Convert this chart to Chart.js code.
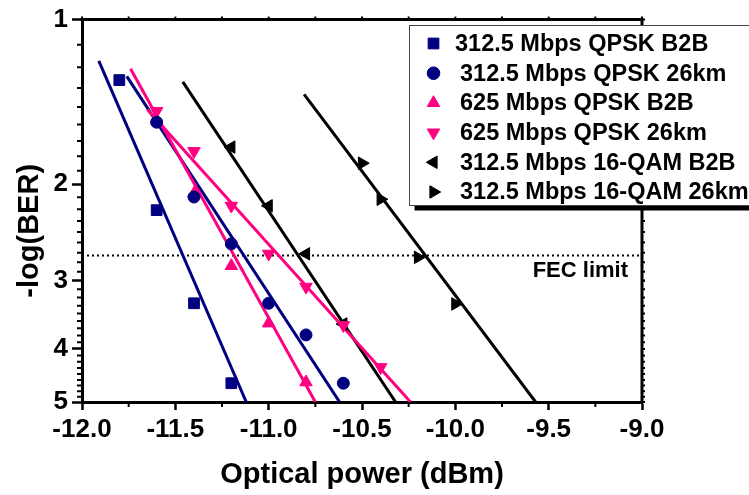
<!DOCTYPE html>
<html>
<head>
<meta charset="utf-8">
<title>BER vs optical power</title>
<script src="https://cdn.jsdelivr.net/npm/chart.js@4/dist/chart.umd.min.js"></script>
<style>
  html, body { margin: 0; padding: 0; background: #fff; }
  #wrap { position: relative; width: 749px; height: 495px; }
</style>
</head>
<body>
<div id="wrap"><canvas id="berChart" width="749" height="495"></canvas></div>
<script>
// ---- data (x = optical power in dBm, y = -log(BER)) ----
const xTicks = [-12, -11.5, -11, -10.5, -10, -9.5, -9];
const yTicks = [1, 2, 3, 4, 5];
const fecLimit = 2.7;
const fecText = 'FEC limit';

const legendLabels = [
    '312.5 Mbps QPSK B2B',
    '312.5 Mbps QPSK 26km',
    '625 Mbps QPSK B2B',
    '625 Mbps QPSK 26km',
    '312.5 Mbps 16-QAM B2B',
    '312.5 Mbps 16-QAM 26km'
];

// measured points
const qpsk312B2bX = [-11.8, -11.6, -11.4, -11.2];
const qpsk312B2bY = [1.29, 2.23, 3.30, 4.62];
const qpsk312KmX = [-11.6, -11.4, -11.2, -11.0, -10.8, -10.6];
const qpsk312KmY = [1.54, 2.11, 2.57, 3.30, 3.77, 4.62];
const qpsk625B2bX = [-11.4, -11.2, -11.0, -10.8];
const qpsk625B2bY = [2.08, 2.82, 3.59, 4.60];
const qpsk625KmX = [-11.6, -11.4, -11.2, -11.0, -10.8, -10.6, -10.4];
const qpsk625KmY = [1.47, 1.74, 2.19, 2.68, 3.08, 3.62, 4.32];
const qam312B2bX = [-11.2, -11.0, -10.8, -10.6];
const qam312B2bY = [1.71, 2.19, 2.68, 3.60];
const qam312KmX = [-10.5, -10.4, -10.2, -10.0];
const qam312KmY = [1.83, 2.13, 2.72, 3.31];

// fitted lines (start, end)
const fitQpsk312B2bX = [-11.91, -11.12];
const fitQpsk312B2bY = [1.19, 5];
const fitQpsk312KmX = [-11.76, -10.62];
const fitQpsk312KmY = [1.27, 5];
const fitQpsk625B2bX = [-11.74, -10.75];
const fitQpsk625B2bY = [1.23, 5];
const fitQpsk625KmX = [-11.65, -10.24];
const fitQpsk625KmY = [1.46, 5];
const fitQam312B2bX = [-11.46, -10.32];
const fitQam312B2bY = [1.30, 5];
const fitQam312KmX = [-10.81, -9.57];
const fitQam312KmY = [1.37, 5];

const NAVY = '#000080';
const PINK = '#ff0080';
const BLACK = '#000000';
const FONT = 'Arial, "Liberation Sans", sans-serif';

function pts(xs, ys) {
    return xs.map((x, i) => ({ x: x, y: ys[i] }));
}

// marker styles for the six series
const markers = [
    { color: NAVY, style: 'rect', radius: 7.6, rotation: 0 },
    { color: NAVY, style: 'circle', radius: 6, rotation: 0 },
    { color: PINK, style: 'triangle', radius: 7.2, rotation: 0 },
    { color: PINK, style: 'triangle', radius: 7.2, rotation: 180 },
    { color: BLACK, style: 'triangle', radius: 7.2, rotation: 270 },
    { color: BLACK, style: 'triangle', radius: 7.2, rotation: 90 }
];

function pointSet(label, xs, ys, m) {
    return {
        label: label,
        data: pts(xs, ys),
        showLine: false,
        pointStyle: m.style,
        pointRadius: m.radius,
        pointRotation: m.rotation,
        backgroundColor: m.color,
        borderColor: m.color,
        pointBorderWidth: 1
    };
}

function fitSet(xs, ys, color) {
    return {
        label: '',
        data: pts(xs, ys),
        showLine: true,
        borderColor: color,
        borderWidth: 3,
        pointRadius: 0,
        tension: 0
    };
}

// minor ticks, frame, FEC label, y title and legend
const decorPlugin = {
    id: 'decor',
    afterDraw(chart) {
        const ctx = chart.ctx;
        const xs = chart.scales.x;
        const ys = chart.scales.y;
        const a = chart.chartArea;

        ctx.save();
        ctx.strokeStyle = '#000';

        // top and right frame
        ctx.lineWidth = 3;
        ctx.beginPath();
        ctx.moveTo(a.left - 1.5, a.top);
        ctx.lineTo(a.right, a.top);
        ctx.lineTo(a.right, a.bottom + 1.5);
        ctx.stroke();

        // x minor ticks + small ticks on top axis
        ctx.lineWidth = 2;
        for (let v = -12; v <= -9.001 + 0.25; v += 0.25) {
            const px = xs.getPixelForValue(v);
            const isMajor = Math.abs(v * 2 - Math.round(v * 2)) < 1e-6;
            ctx.beginPath();
            if (!isMajor) {
                ctx.moveTo(px, a.bottom);
                ctx.lineTo(px, a.bottom + 5);
            }
            ctx.moveTo(px, a.top);
            ctx.lineTo(px, a.top - 3);
            ctx.stroke();
        }

        // y minor ticks (each interval split in nine) + small ticks on right axis
        for (let k = 1; k < 5; k++) {
            for (let j = 0; j <= 9; j++) {
                const py = ys.getPixelForValue(k + j / 9);
                ctx.beginPath();
                if (j > 0 && j < 9) {
                    ctx.moveTo(a.left, py);
                    ctx.lineTo(a.left - 5, py);
                }
                ctx.moveTo(a.right, py);
                ctx.lineTo(a.right + 3, py);
                ctx.stroke();
            }
        }

        // FEC label
        ctx.fillStyle = '#000';
        ctx.font = 'bold 22px ' + FONT;
        ctx.textAlign = 'right';
        ctx.textBaseline = 'middle';
        ctx.fillText(fecText, xs.getPixelForValue(-9) - 14, ys.getPixelForValue(fecLimit) + 15);

        // y axis title
        ctx.save();
        ctx.translate(30, (a.top + a.bottom) / 2 + 20);
        ctx.rotate(-Math.PI / 2);
        ctx.font = 'bold 29px ' + FONT;
        ctx.textAlign = 'center';
        ctx.textBaseline = 'middle';
        ctx.fillText('-log(BER)', 0, 0);
        ctx.restore();

        // legend box with shadow
        const bx = 409.5, by = 25.5, bw = 360, bh = 180;
        ctx.fillStyle = '#000';
        ctx.fillRect(bx + 5, by + 5, bw, bh);
        ctx.fillStyle = '#fff';
        ctx.fillRect(bx, by, bw, bh);
        ctx.lineWidth = 1;
        ctx.strokeStyle = '#444';
        ctx.strokeRect(bx, by, bw, bh);

        ctx.font = 'bold 23.5px ' + FONT;
        ctx.textAlign = 'left';
        ctx.textBaseline = 'middle';
        legendLabels.forEach(function(label, i) {
            const m = markers[i];
            const rowY = 43.5 + i * 29.7;
            ctx.fillStyle = m.color;
            ctx.strokeStyle = m.color;
            Chart.helpers.drawPoint(ctx, {
                pointStyle: m.style,
                radius: m.style === 'circle' ? 6.3 : m.radius,
                rotation: m.rotation,
                borderWidth: 1
            }, 433.5, rowY);
            ctx.fillStyle = '#000';
            ctx.fillText(label, i === 0 ? 455 : 460, rowY + 1);
        });

        ctx.restore();
    }
};

const datasets = [
    pointSet(legendLabels[0], qpsk312B2bX, qpsk312B2bY, markers[0]),
    pointSet(legendLabels[1], qpsk312KmX, qpsk312KmY, markers[1]),
    pointSet(legendLabels[2], qpsk625B2bX, qpsk625B2bY, markers[2]),
    pointSet(legendLabels[3], qpsk625KmX, qpsk625KmY, markers[3]),
    pointSet(legendLabels[4], qam312B2bX, qam312B2bY, markers[4]),
    pointSet(legendLabels[5], qam312KmX, qam312KmY, markers[5]),
    fitSet(fitQpsk625B2bX, fitQpsk625B2bY, PINK),
    fitSet(fitQpsk625KmX, fitQpsk625KmY, PINK),
    fitSet(fitQpsk312B2bX, fitQpsk312B2bY, NAVY),
    fitSet(fitQpsk312KmX, fitQpsk312KmY, NAVY),
    fitSet(fitQam312B2bX, fitQam312B2bY, BLACK),
    fitSet(fitQam312KmX, fitQam312KmY, BLACK),
    {
        label: '',
        data: pts([-12, -9], [fecLimit, fecLimit]),
        showLine: true,
        borderColor: BLACK,
        borderWidth: 2,
        borderDash: [2, 3],
        pointRadius: 0
    }
];

new Chart(document.getElementById('berChart'), {
    type: 'scatter',
    data: { datasets: datasets },
    options: {
        responsive: false,
        animation: false,
        events: [],
        layout: { padding: { top: 18, right: 107, left: 0, bottom: 0 } },
        plugins: {
            legend: { display: false },
            tooltip: { enabled: false }
        },
        scales: {
            x: {
                type: 'linear',
                min: -12,
                max: -9,
                afterFit: function(s) { s.height = 93; },
                afterBuildTicks: function(s) { s.ticks = xTicks.map(v => ({ value: v })); },
                ticks: {
                    callback: v => v.toFixed(1),
                    color: '#000',
                    font: { family: FONT, size: 26, weight: 'bold' },
                    padding: 4,
                    maxRotation: 0,
                    autoSkip: false
                },
                grid: {
                    drawOnChartArea: false,
                    drawTicks: true,
                    tickLength: 8,
                    tickWidth: 2.5,
                    tickColor: '#000'
                },
                border: { display: true, color: '#000', width: 3 },
                title: {
                    display: true,
                    text: 'Optical power (dBm)',
                    color: '#000',
                    font: { family: FONT, size: 29, weight: 'bold' },
                    padding: { top: 0, bottom: 3 }
                }
            },
            y: {
                type: 'logarithmic',
                min: 1,
                max: 5,
                reverse: true,
                afterFit: function(s) { s.width = 82; },
                afterBuildTicks: function(s) { s.ticks = yTicks.map(v => ({ value: v })); },
                ticks: {
                    callback: v => String(v),
                    color: '#000',
                    font: { family: FONT, size: 26, weight: 'bold' },
                    padding: 4
                },
                grid: {
                    drawOnChartArea: false,
                    drawTicks: true,
                    tickLength: 10,
                    tickWidth: 2.5,
                    tickColor: '#000'
                },
                border: { display: true, color: '#000', width: 3 }
            }
        }
    },
    plugins: [decorPlugin]
});
</script>
</body>
</html>
